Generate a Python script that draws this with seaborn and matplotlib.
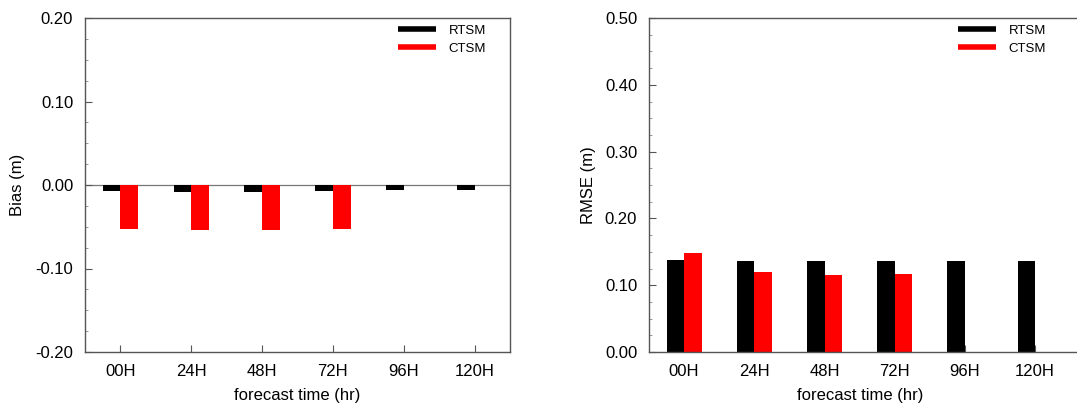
import numpy as np
import pandas as pd
import matplotlib
matplotlib.use("Agg")
import matplotlib.pyplot as plt
from matplotlib.lines import Line2D
from matplotlib.ticker import MultipleLocator
import seaborn as sns

# ---- data ----
categories = ["00H", "24H", "48H", "72H", "96H", "120H"]
bias_rtsm = [-0.0072, -0.0080, -0.0088, -0.0076, -0.0060, -0.0056]
bias_ctsm = [-0.0528, -0.0544, -0.0536, -0.0528, np.nan, np.nan]
rmse_rtsm = [0.1375, 0.1365, 0.1355, 0.1365, 0.1365, 0.1355]
rmse_ctsm = [0.1485, 0.1200, 0.1155, 0.1170, np.nan, np.nan]
series = ["RTSM", "CTSM"]
colors = {"RTSM": "#000000", "CTSM": "#ff0000"}

def long_df(r, c):
    return pd.DataFrame({
        "time": categories * 2,
        "model": ["RTSM"] * len(categories) + ["CTSM"] * len(categories),
        "value": list(r) + list(c),
    })

df_bias = long_df(bias_rtsm, bias_ctsm)
df_rmse = long_df(rmse_rtsm, rmse_ctsm)

sns.set_theme(style="white")
plt.rcParams["font.family"] = ["Liberation Sans", "DejaVu Sans"]
plt.rcParams["axes.labelcolor"] = "black"
plt.rcParams["text.color"] = "black"

W, H = 1077, 409
fig = plt.figure(figsize=(W / 100, H / 100), dpi=100)

def px_axes(x0, x1, y0, y1):
    return fig.add_axes([x0 / W, (H - y1) / H, (x1 - x0) / W, (y1 - y0) / H])

ax1 = px_axes(85, 510, 18, 352)
ax2 = px_axes(649, 1090, 18, 352)

spine_col = "#555555"

def style(ax, df, ylim, major, ylabel, xlim, ylab_x, xlab_center):
    sns.barplot(data=df, x="time", y="value", hue="model", order=categories,
                hue_order=series, palette=colors, width=0.5, dodge=True,
                errorbar=None, linewidth=0, saturation=1, ax=ax, legend=False)
    ax.set_ylim(*ylim)
    ax.set_xlim(*xlim)
    ax.yaxis.set_major_locator(MultipleLocator(major))
    ax.yaxis.set_minor_locator(MultipleLocator(major / 4))
    ax.yaxis.set_major_formatter(matplotlib.ticker.FormatStrFormatter("%.2f"))
    ax.tick_params(axis="both", which="major", direction="in", length=5,
                   width=0.8, color=spine_col, labelsize=12, pad=8.5,
                   labelcolor="black", left=True, bottom=True)
    ax.tick_params(axis="y", which="minor", direction="in", length=2.5,
                   width=0.6, color="#888888", left=True)
    ax.tick_params(axis="x", which="minor", length=0)
    ax.tick_params(axis="x", which="major", length=5, pad=9)
    for s in ["left", "bottom", "top", "right"]:
        ax.spines[s].set_color(spine_col)
        ax.spines[s].set_linewidth(1.0)
    ax.spines["right"].set_visible(False)
    ax.set_ylabel(ylabel, fontsize=12, color="black")
    ax.set_xlabel("forecast time (hr)", fontsize=12, color="black")
    ax.yaxis.set_label_coords(ylab_x, 0.5)
    ax.xaxis.set_label_coords(xlab_center, -0.108)
    handles = [Line2D([0], [0], color=colors[s], lw=4.0, solid_capstyle="butt")
               for s in series]
    return handles

h = style(ax1, df_bias, (-0.2, 0.2), 0.1, "Bias (m)", (-0.5, 5.5),
          (25 - 85) / 425, 0.5)
ax1.spines["right"].set_visible(True)
ax1.axhline(0, color="#777777", lw=0.9, zorder=0)
ax1.legend(h, series, loc="upper left", bbox_to_anchor=((398 - 85) / 425, 0.98),
           frameon=False, fontsize=9.5, handlelength=2.85, handletextpad=1.0,
           labelspacing=0.42, borderpad=0, borderaxespad=0)

w2 = 441
h2 = style(ax2, df_rmse, (0.0, 0.5), 0.1, "RMSE (m)", (-0.5, -0.5 + w2 / 70.2),
           (596 - 649) / w2, (860 - 649) / w2)
ax2.legend(h2, series, loc="upper left", bbox_to_anchor=((958 - 649) / w2, 0.98),
           frameon=False, fontsize=9.5, handlelength=2.85, handletextpad=1.0,
           labelspacing=0.42, borderpad=0, borderaxespad=0)

fig.savefig("out.png", dpi=100)
